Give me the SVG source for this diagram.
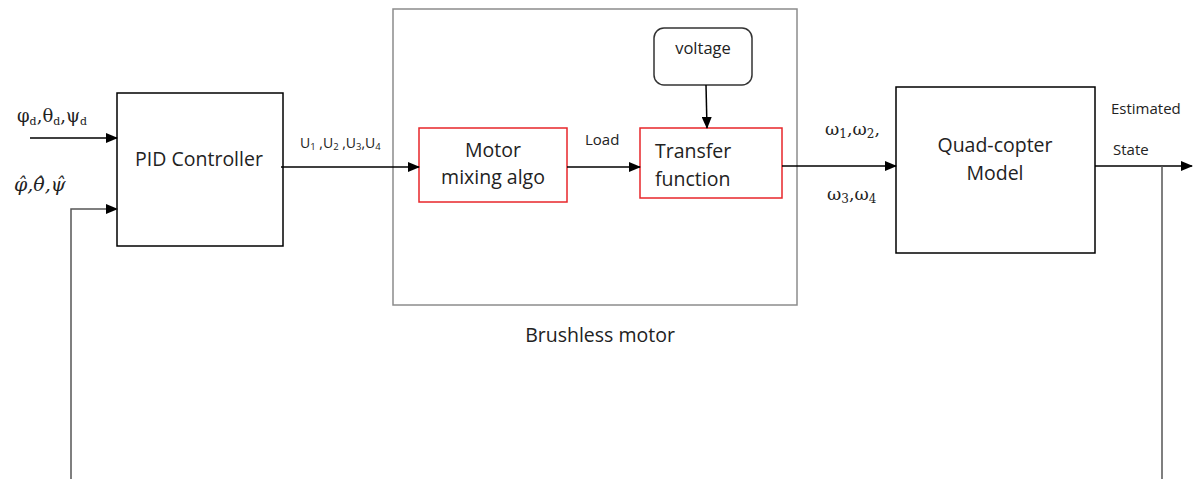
<svg xmlns="http://www.w3.org/2000/svg" width="1193" height="479" viewBox="0 0 1193 479">
<defs>
<marker id="ah" markerWidth="12" markerHeight="10" refX="11" refY="5" orient="auto" markerUnits="userSpaceOnUse">
<path d="M0,0 L12,5 L0,10 Z" fill="#000"/>
</marker>
<style>
.blk{fill:#fff;stroke:#000;stroke-width:1.5}
.red{fill:#fff;stroke:#e8262a;stroke-width:1.5}
.gry{fill:none;stroke:#8c8c8c;stroke-width:1.5}
.ln{fill:none;stroke:#000;stroke-width:1.5}
.fb{fill:none;stroke:#555;stroke-width:1.5}
.t{font-family:"Open Sans","Liberation Sans",sans-serif;fill:#222}
.m{font-size:19.5px}
.s{font-size:15px}
.g{font-family:"DejaVu Serif","Liberation Serif",serif;fill:#222}
</style>
</defs>
<rect width="1193" height="479" fill="#fff"/>
<g id="brushless">
<rect class="gry" x="393" y="9" width="404" height="296"/>
<text class="t m" x="600" y="342" text-anchor="middle">Brushless motor</text>
</g>
<g id="pid">
<rect class="blk" x="117" y="93" width="166" height="153"/>
<text class="t m" x="199" y="166" text-anchor="middle">PID Controller</text>
</g>
<g id="mixing">
<rect class="red" x="419" y="128" width="148" height="74"/>
<text class="t m" x="493" y="157" text-anchor="middle">Motor</text>
<text class="t m" x="493" y="184" text-anchor="middle">mixing algo</text>
</g>
<g id="transfer">
<rect class="red" x="640" y="128" width="142" height="70"/>
<text class="t m" x="655" y="158">Transfer</text>
<text class="t m" x="655" y="186">function</text>
</g>
<g id="voltage">
<rect class="blk" x="654" y="28" width="98" height="57" rx="10" ry="10" style="stroke:#333"/>
<text class="t" x="703" y="54" font-size="16.5" text-anchor="middle">voltage</text>
</g>
<g id="quad">
<rect class="blk" x="896" y="87" width="199" height="166"/>
<text class="t m" x="995" y="152" text-anchor="middle">Quad-copter</text>
<text class="t m" x="995" y="180" text-anchor="middle">Model</text>
</g>
<g id="connectors">
<line class="ln" x1="30" y1="138" x2="117" y2="138" marker-end="url(#ah)"/>
<polyline class="fb" points="71,479 71,209 117,209" marker-end="url(#ah)"/>
<line class="ln" x1="281" y1="167" x2="419" y2="167" marker-end="url(#ah)"/>
<line class="ln" x1="567" y1="167" x2="640" y2="167" marker-end="url(#ah)"/>
<line class="ln" x1="706" y1="85" x2="707" y2="128" marker-end="url(#ah)"/>
<line class="ln" x1="782" y1="166" x2="896" y2="166" marker-end="url(#ah)"/>
<line class="ln" x1="1095" y1="166" x2="1192" y2="166" marker-end="url(#ah)"/>
<line class="fb" x1="1162" y1="166" x2="1162" y2="479"/>
</g>
<g id="labels">
<text class="g" x="17" y="122" font-size="18">φ<tspan font-size="11" dy="3">d</tspan><tspan dy="-3">,θ</tspan><tspan font-size="11" dy="3">d</tspan><tspan dy="-3">,ψ</tspan><tspan font-size="11" dy="3">d</tspan></text>
<text class="g" x="14" y="191" font-size="19" font-style="italic">φ̂,θ̂,ψ̂</text>
<text class="t" x="300" y="148" font-size="14">U<tspan font-size="9.5" dy="2">1</tspan><tspan dy="-2"> ,U</tspan><tspan font-size="9.5" dy="2">2</tspan><tspan dy="-2"> ,U</tspan><tspan font-size="9.5" dy="2">3</tspan><tspan dy="-2">,U</tspan><tspan font-size="9.5" dy="2">4</tspan></text>
<text class="t s" x="585" y="145">Load</text>
<text class="g" x="825" y="135" font-size="17.5">ω<tspan font-size="12" dy="3">1</tspan><tspan dy="-3">,ω</tspan><tspan font-size="12" dy="3">2</tspan><tspan dy="-3">,</tspan></text>
<text class="g" x="827" y="200" font-size="17.5">ω<tspan font-size="12" dy="3">3</tspan><tspan dy="-3">,ω</tspan><tspan font-size="12" dy="3">4</tspan></text>
<text class="t s" x="1111" y="114">Estimated</text>
<text class="t s" x="1113" y="155">State</text>
</g>
</svg>
